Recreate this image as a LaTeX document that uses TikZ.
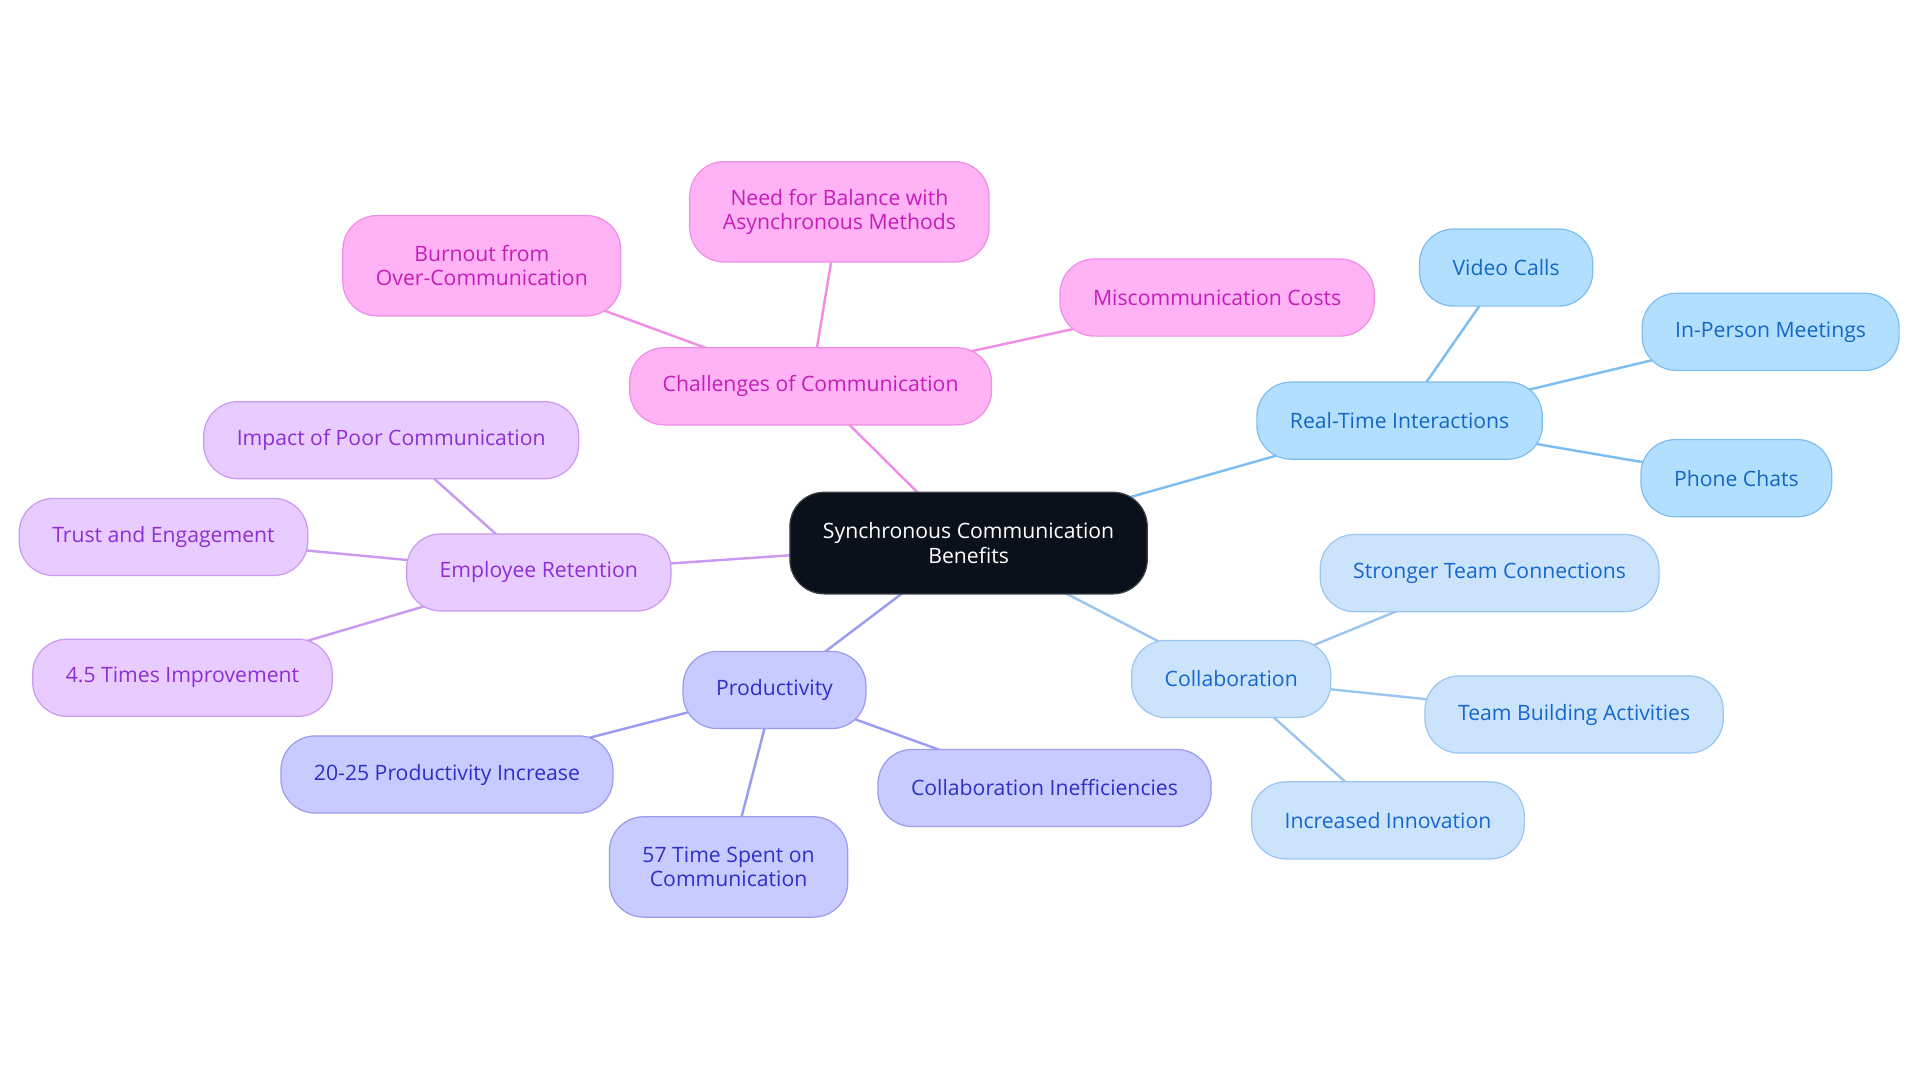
\documentclass[tikz,border=0pt]{standalone}
\usepackage{fontspec}
\setmainfont{Open Sans}
\usetikzlibrary{backgrounds}

\definecolor{rootfill}{HTML}{0B111B}
\definecolor{pinkfill}{HTML}{FFB3F4}
\definecolor{pinkline}{HTML}{F08EE6}
\definecolor{pinktext}{HTML}{C51DBA}
\definecolor{bluefill}{HTML}{B3DFFF}
\definecolor{blueline}{HTML}{7DBDF0}
\definecolor{bluetext}{HTML}{1367C5}
\definecolor{skyfill}{HTML}{CCE3FC}
\definecolor{skyline}{HTML}{9CC5F0}
\definecolor{skytext}{HTML}{1567CF}
\definecolor{indfill}{HTML}{C8CBFF}
\definecolor{indline}{HTML}{9A9CF0}
\definecolor{indtext}{HTML}{2E2FC8}
\definecolor{purfill}{HTML}{E8CBFF}
\definecolor{purline}{HTML}{C99AF0}
\definecolor{purtext}{HTML}{8E2FD4}

\tikzset{
  box/.style={draw, rounded corners=28pt, line width=1pt, minimum height=63pt,
    inner xsep=27pt, inner ysep=0pt, align=center,
    font=\fontsize{17.3}{20}\selectfont},
  tall/.style={minimum height=82pt},
  root/.style={box, fill=rootfill, draw=rootfill!80!white, text=white, minimum height=83pt},
  pinkbox/.style={box, fill=pinkfill, draw=pinkline, text=pinktext},
  bluebox/.style={box, fill=bluefill, draw=blueline, text=bluetext},
  skybox/.style={box, fill=skyfill, draw=skyline, text=skytext},
  indbox/.style={box, fill=indfill, draw=indline, text=indtext},
  purbox/.style={box, fill=purfill, draw=purline, text=purtext},
  link/.style={line width=2pt}
}

\begin{document}
\begin{tikzpicture}[x=1pt, y=-1pt]
  \useasboundingbox (0,0) rectangle (1568,884);
  \path
    (791,443.5) node[root] (c) {Synchronous Communication\\Benefits}
    (662,315.5) node[pinkbox] (ch) {Challenges of Communication}
    (685.5,173) node[pinkbox, tall] (need) {Need for Balance with\\Asynchronous Methods}
    (393.5,217) node[pinkbox, tall] (burn) {Burnout from\\Over-Communication}
    (994,243) node[pinkbox] (mis) {Miscommunication Costs}
    (1143,343.5) node[bluebox] (rt) {Real-Time Interactions}
    (1230,218.5) node[bluebox] (vid) {Video Calls}
    (1446,271) node[bluebox] (meet) {In-Person Meetings}
    (1418,390.5) node[bluebox] (phone) {Phone Chats}
    (1005.5,554.5) node[skybox] (col) {Collaboration}
    (1216.5,468) node[skybox] (team) {Stronger Team Connections}
    (1285.5,583.5) node[skybox] (build) {Team Building Activities}
    (1133.5,670) node[skybox] (innov) {Increased Innovation}
    (632.5,563.5) node[indbox] (prod) {Productivity}
    (365,632.5) node[indbox] (incr) {20-25 Productivity Increase}
    (595,708) node[indbox, tall] (spent) {57 Time Spent on\\Communication}
    (853,643.5) node[indbox] (ineff) {Collaboration Inefficiencies}
    (440,467.5) node[purbox] (emp) {Employee Retention}
    (319.5,359.5) node[purbox] (poor) {Impact of Poor Communication}
    (133.5,438.5) node[purbox] (trust) {Trust and Engagement}
    (149,553.5) node[purbox] (times) {4.5 Times Improvement};
  \begin{scope}[on background layer]
    \draw[link, pinkline] (c.center) to (ch.center);
    \draw[link, pinkline] (ch.center) to (need.center);
    \draw[link, pinkline] (ch.center) to (burn.center);
    \draw[link, pinkline] (ch.center) to (mis.center);
    \draw[link, blueline] (c.center) to (rt.center);
    \draw[link, blueline] (rt.center) to (vid.center);
    \draw[link, blueline] (rt.center) to (meet.center);
    \draw[link, blueline] (rt.center) to (phone.center);
    \draw[link, skyline] (c.center) to (col.center);
    \draw[link, skyline] (col.center) to (team.center);
    \draw[link, skyline] (col.center) to (build.center);
    \draw[link, skyline] (col.center) to (innov.center);
    \draw[link, indline] (c.center) to (prod.center);
    \draw[link, indline] (prod.center) to (incr.center);
    \draw[link, indline] (prod.center) to (spent.center);
    \draw[link, indline] (prod.center) to (ineff.center);
    \draw[link, purline] (c.center) to (emp.center);
    \draw[link, purline] (emp.center) to (poor.center);
    \draw[link, purline] (emp.center) to (trust.center);
    \draw[link, purline] (emp.center) to (times.center);
  \end{scope}
\end{tikzpicture}
\end{document}
